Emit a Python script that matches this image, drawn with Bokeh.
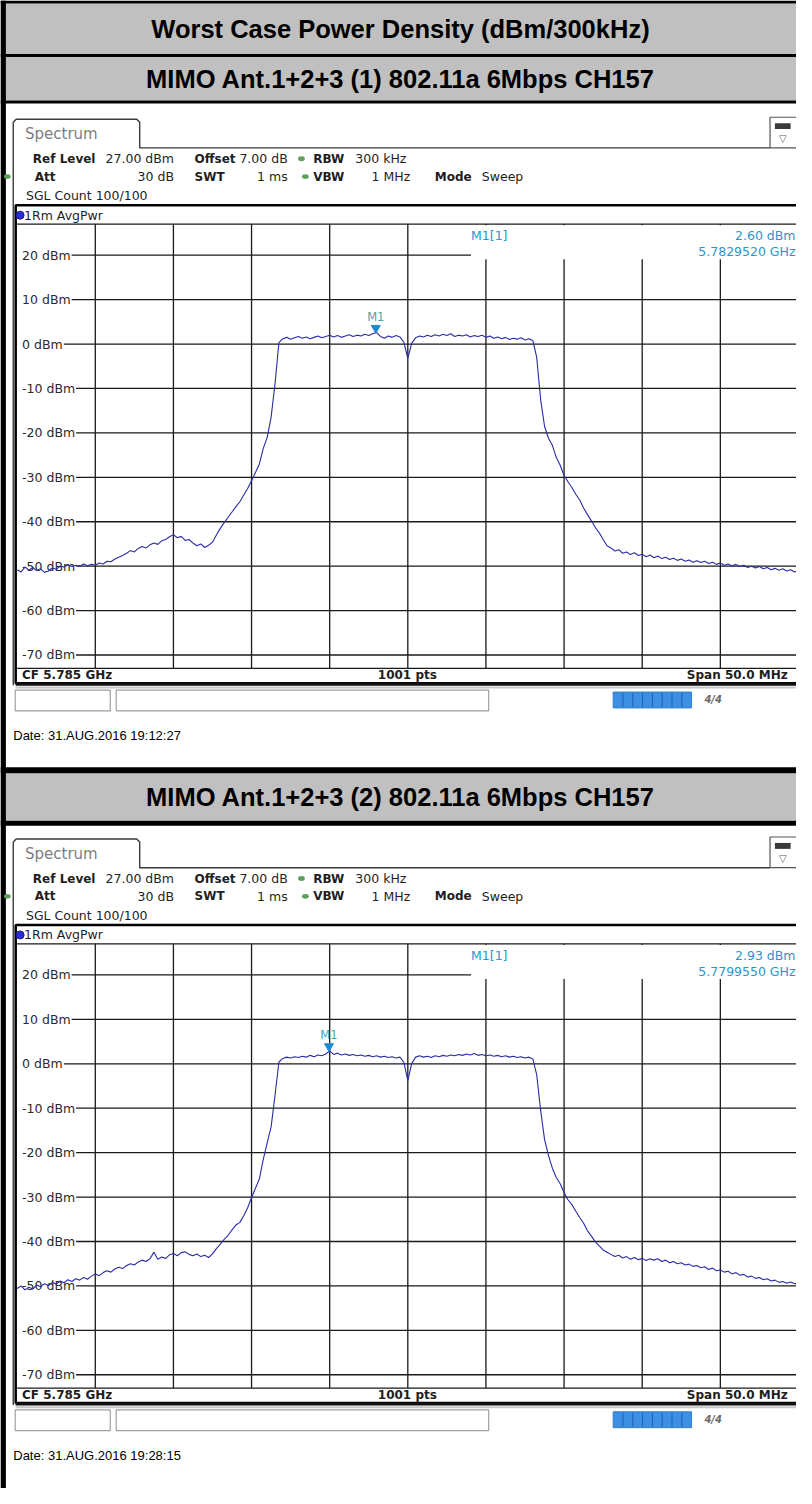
from bokeh.plotting import figure
from bokeh.models import Range1d
from bokeh.core.properties import value
from bokeh.embed import file_html
from bokeh.resources import INLINE

# ---------------- data ----------------
PAGE_TITLE = "Worst Case Power Density (dBm/300kHz)"
PANEL_TITLES = ["MIMO Ant.1+2+3 (1) 802.11a 6Mbps CH157",
                "MIMO Ant.1+2+3 (2) 802.11a 6Mbps CH157"]
DATES = ["Date: 31.AUG.2016  19:12:27", "Date: 31.AUG.2016  19:28:15"]
MARKER_LEVEL_DBM = [2.60, 2.93]
MARKER_FREQ_GHZ = [5.7829520, 5.7799550]
CENTER_GHZ = 5.785
SPAN_MHZ = 50.0
N_POINTS = 1001
REF_LEVEL_DBM = 27.0
OFFSET_DB = 7.0
ATT_DB = 30
RANGE_DB = 100.0
Y_TICKS_DBM = [20, 10, 0, -10, -20, -30, -40, -50, -60, -70]
Y_TICK_LABELS = ["20 dBm", "10 dBm", "0 dBm", "-10 dBm", "-20 dBm",
                 "-30 dBm", "-40 dBm", "-50 dBm", "-60 dBm", "-70 dBm"]
X_GRID_MHZ = [-20, -15, -10, -5, 0, 5, 10, 15, 20]

# trace values read every 0.25 MHz from -25 MHz to +25 MHz
TRACE1_DBM = [
    -50.8, -51.3, -50.2, -50.9, -50.3, -51.0, -50.6, -51.4,
    -51.1, -50.4, -50.7, -50.0, -50.2, -49.7, -50.1, -49.8,
    -50.0, -49.5, -49.9, -49.6, -49.8, -49.3, -49.5, -48.9,
    -49.0, -48.4, -48.0, -47.6, -47.1, -46.5, -46.8, -46.0,
    -45.6, -45.9, -45.2, -44.8, -45.1, -44.3, -44.0, -43.4,
    -42.9, -43.6, -43.3, -44.2, -44.0, -44.8, -45.4, -45.0,
    -45.8, -45.3, -44.6, -43.0, -41.5, -40.2, -39.0, -37.8,
    -36.6, -35.5, -34.0, -32.5, -30.8, -28.9, -27.0, -23.5,
    -21.0, -16.5, -9.0, 0.3, 1.2, 1.5, 1.1, 1.4,
    1.7, 1.3, 1.6, 1.2, 1.5, 1.8, 1.4, 1.7,
    2.0, 1.6, 1.9, 1.5, 1.8, 2.1, 1.7, 2.0,
    1.8, 2.2, 1.9, 2.3, 2.6, 1.7, 1.3, 1.8,
    1.5, 1.9, 1.6, 0.4, -3.2, 0.2, 1.4, 1.8,
    1.6, 2.0, 1.7, 2.1, 1.8, 2.2, 1.9, 2.3,
    1.7, 2.0, 1.8, 2.1, 1.6, 1.9, 1.7, 2.0,
    1.5, 1.8, 1.3, 1.6, 1.2, 1.5, 1.0, 1.3,
    1.1, 1.4, 0.9, 1.2, 0.8, -3.0, -12.5, -18.5,
    -21.2, -22.8, -25.5, -27.3, -29.6, -31.0, -32.3, -33.8,
    -35.1, -36.9, -38.4, -39.8, -41.3, -42.5, -44.0, -45.4,
    -45.9, -46.6, -46.3, -47.1, -46.8, -47.4, -47.0, -47.6,
    -47.3, -47.9, -47.5, -48.1, -47.7, -48.3, -48.0, -48.5,
    -48.2, -48.7, -48.4, -48.9, -48.6, -49.1, -48.8, -49.2,
    -48.9, -49.4, -49.1, -49.6, -49.3, -49.8, -49.5, -49.9,
    -49.6, -50.1, -49.8, -50.3, -50.0, -50.4, -50.1, -50.6,
    -50.3, -50.8, -50.5, -50.9, -50.6, -51.1, -50.8, -51.3,
    -51.0,
]
TRACE2_DBM = [
    -50.6, -50.0, -50.9, -50.3, -50.7, -49.8, -50.2, -49.5,
    -49.9, -49.2, -49.6, -48.9, -49.3, -48.6, -49.0, -48.4,
    -48.7, -48.1, -48.5, -47.8, -47.3, -47.7, -47.0, -46.6,
    -46.9, -46.2, -45.8, -46.1, -45.4, -45.0, -45.3, -44.6,
    -44.2, -44.5, -43.9, -42.4, -44.0, -43.5, -43.8, -43.0,
    -42.7, -43.2, -42.5, -42.3, -42.9, -43.2, -42.8, -43.4,
    -43.1, -43.6, -42.8, -41.6, -40.6, -39.5, -38.6, -37.4,
    -36.3, -35.7, -34.2, -32.4, -30.1, -28.0, -25.9, -21.5,
    -17.8, -14.2, -7.2, 0.4, 1.2, 1.5, 1.3, 1.6,
    1.4, 1.7, 1.5, 1.9, 1.6, 2.0, 1.8, 2.2,
    2.9, 2.1, 2.4, 2.0, 2.2, 1.9, 2.1, 1.8,
    2.0, 1.7, 1.9, 1.6, 1.8, 1.5, 1.7, 1.4,
    1.6, 1.3, 1.5, 0.3, -3.8, 0.1, 1.5, 1.8,
    1.5, 1.7, 1.4, 1.8, 1.6, 1.9, 1.7, 2.0,
    1.8, 2.1, 1.9, 2.2, 2.0, 2.3, 1.9, 2.1,
    1.8, 2.0, 1.7, 1.9, 1.6, 1.8, 1.5, 1.7,
    1.4, 1.6, 1.3, 1.5, 1.1, -2.5, -10.5, -17.0,
    -20.6, -23.5, -25.6, -27.0, -29.0, -30.6, -31.7, -33.2,
    -34.6, -35.9, -37.6, -38.8, -40.1, -41.0, -41.9, -42.4,
    -42.9, -43.4, -43.1, -43.7, -43.4, -44.0, -43.6, -44.1,
    -43.8, -44.3, -43.9, -44.2, -43.9, -44.5, -44.2, -44.8,
    -44.5, -45.0, -44.8, -45.3, -45.1, -45.6, -45.4, -45.9,
    -45.7, -46.3, -46.0, -46.6, -46.4, -46.9, -46.7, -47.3,
    -47.0, -47.6, -47.4, -48.0, -47.8, -48.3, -48.1, -48.6,
    -48.4, -48.9, -48.7, -49.2, -49.0, -49.4, -49.1, -49.5,
    -49.3,
]
TRACES = [TRACE1_DBM, TRACE2_DBM]

# ---------------- layout (reference pixel space) ----------------
W_REF, H_REF = 812.0, 1504.0
GRID_X0, GRID_X1 = 17.0, 814.0
PX_PER_MHZ = (GRID_X1 - GRID_X0) / SPAN_MHZ
CX = (GRID_X0 + GRID_X1) / 2.0
PX_PER_DB = 4.49
PANEL_DY = 727.5
GRID_TOP = [226.0, 226.0 + PANEL_DY]

INSTR = "DejaVu Sans"
ARIAL = "Liberation Sans"
INK = "#1e1e1e"
GRID_C = "#1a1a1a"
MK_C = "#2a96c8"
TRACE_C = "#2b2ba6"
FS = "12.5px"
FSB = "12px"
TITLE_FS = "25.5px"

p = figure(width=796, height=1488, x_range=Range1d(0, W_REF), y_range=Range1d(H_REF, 0),
           output_backend="svg", toolbar_location=None, min_border=0,
           x_axis_location=None, y_axis_location=None,
           background_fill_color="white", border_fill_color="white")
p.xgrid.visible = False
p.ygrid.visible = False
p.outline_line_color = None

p.extra_x_ranges = {"mhz": Range1d((0 - CX) / PX_PER_MHZ, (W_REF - CX) / PX_PER_MHZ)}
p.extra_y_ranges = {
    f"d{k}": Range1d(REF_LEVEL_DBM - (H_REF - t) / PX_PER_DB, REF_LEVEL_DBM + t / PX_PER_DB)
    for k, t in enumerate(GRID_TOP)
}


def T(x, y, s, size=FS, color=INK, font=INSTR, style="normal", align="left",
      xr="default", yr="default"):
    p.text(x=[x], y=[y], text=[s], text_font=value(font), text_font_size=size,
           text_font_style=style, text_color=color, text_align=align,
           text_baseline="middle", x_range_name=xr, y_range_name=yr)


def R(l, r, t, b, fill="white", line=None, lw=1.0):
    p.quad(left=[l], right=[r], top=[t], bottom=[b], fill_color=fill,
           line_color=line, line_width=lw)


def lab_w(s, fs=12.5):
    w = {"-": 0.361, " ": 0.318, "d": 0.635, "B": 0.686, "m": 0.974}
    return sum(w.get(c, 0.636) for c in s) * fs


# ---------------- table frame & titles ----------------
GREY = "#c0c0c0"
for (a, b) in [(3, 54), (57, 101), (781, 829)]:
    R(0, W_REF, a, b, fill=GREY)
for (a, b) in [(0, 3), (54, 57), (101, 104), (775, 781), (829, 834)]:
    R(0, W_REF, a, b, fill="black")
R(0, 5.5, 0, H_REF, fill="black")

T(408, 29, PAGE_TITLE, size=TITLE_FS, color="black", font=ARIAL, style="bold", align="center")
T(408, 79.5, PANEL_TITLES[0], size=TITLE_FS, color="black", font=ARIAL, style="bold", align="center")
T(408, 805.5, PANEL_TITLES[1], size=TITLE_FS, color="black", font=ARIAL, style="bold", align="center")

# ---------------- spectrum screenshots ----------------
for k in range(2):
    oy = k * PANEL_DY
    yr = f"d{k}"
    top = GRID_TOP[k]
    bot_db = REF_LEVEL_DBM - RANGE_DB

    # tab and window outline
    p.line([13, 13, 16, 139, 142, 142, 785],
           [692 + oy, 123 + oy, 120 + oy, 120 + oy, 123 + oy, 149 + oy, 149 + oy],
           line_color="#3a3a3a", line_width=1.4)
    T(25, 135 + oy, "Spectrum", size="15px", color="#7c7c7c")
    R(785, 816, 118 + oy, 149 + oy, fill="white", line="#555555", lw=1.2)
    R(790, 806, 124 + oy, 130 + oy, fill="#3a3a3a")
    T(798, 139.5 + oy, "\u25bd", size="10px", color="#555555", align="center")

    # settings header
    T(33, 160 + oy, "Ref Level", size=FSB, style="bold")
    T(177, 160 + oy, f"{REF_LEVEL_DBM:.2f} dBm", align="right")
    T(198, 160 + oy, "Offset", size=FSB, style="bold")
    T(293, 160 + oy, f"{OFFSET_DB:.2f} dB", align="right")
    T(319, 160 + oy, "RBW", size=FSB, style="bold")
    T(362, 160 + oy, "300 kHz")
    T(35, 178 + oy, "Att", size=FSB, style="bold")
    T(177, 178 + oy, f"{ATT_DB} dB", align="right")
    T(198, 178 + oy, "SWT", size=FSB, style="bold")
    T(293, 178 + oy, "1 ms", align="right")
    T(319, 178 + oy, "VBW", size=FSB, style="bold")
    T(418, 178 + oy, "1 MHz", align="right")
    T(443, 178 + oy, "Mode", size=FSB, style="bold")
    T(491, 178 + oy, "Sweep")
    T(26, 197 + oy, "SGL Count 100/100")
    p.ellipse(x=[7, 307, 311], y=[178 + oy, 160 + oy, 178 + oy], width=7, height=5,
              fill_color="#5f9e5f", line_color=None)

    # graph box
    R(15.5, 830, 207 + oy, 690 + oy, fill=None, line="black", lw=2.5)
    p.line([15.5, 812], [691 + oy, 691 + oy], line_color="#111111", line_width=3)
    p.line([15.5, 812], [694.5 + oy, 694.5 + oy], line_color="#c8c8c8", line_width=2)
    p.scatter([20], [217 + oy], size=8, fill_color="#2b2bd0", line_color="#1a1a90")
    T(24, 217 + oy, "1Rm AvgPwr")

    # grid
    p.segment(x0=[GRID_X0, GRID_X0], y0=[REF_LEVEL_DBM, bot_db], x1=[W_REF, W_REF],
              y1=[REF_LEVEL_DBM, bot_db], y_range_name=yr, line_color=GRID_C, line_width=1.3)
    p.segment(x0=X_GRID_MHZ, y0=[REF_LEVEL_DBM] * len(X_GRID_MHZ), x1=X_GRID_MHZ,
              y1=[bot_db] * len(X_GRID_MHZ), x_range_name="mhz", y_range_name=yr,
              line_color=GRID_C, line_width=1.3)
    starts = [22 + lab_w(s) + 2 for s in Y_TICK_LABELS]
    p.segment(x0=starts, y0=Y_TICKS_DBM, x1=[W_REF] * len(Y_TICKS_DBM), y1=Y_TICKS_DBM,
              y_range_name=yr, line_color=GRID_C, line_width=1.3)
    p.text(x=[22] * len(Y_TICKS_DBM), y=Y_TICKS_DBM, text=Y_TICK_LABELS,
           text_font=value(INSTR), text_font_size=FS, text_color="#2a2a2a",
           text_baseline="middle", y_range_name=yr)

    # marker info box
    R(480, 830, top + 1.2, top + 35.5, fill="white")
    T(480, top + 11.5, "M1[1]", color=MK_C)
    T(811, top + 11.5, f"{MARKER_LEVEL_DBM[k]:.2f} dBm", color=MK_C, align="right")
    T(811, top + 27.5, f"{MARKER_FREQ_GHZ[k]:.7f} GHz", color=MK_C, align="right")

    # trace
    n = len(TRACES[k])
    freq = [-SPAN_MHZ / 2 + SPAN_MHZ * i / (n - 1) for i in range(n)]
    p.line(freq, TRACES[k], x_range_name="mhz", y_range_name=yr,
           line_color=TRACE_C, line_width=1.1)

    # marker
    fm = (MARKER_FREQ_GHZ[k] - CENTER_GHZ) * 1000.0
    lv = MARKER_LEVEL_DBM[k]
    p.scatter([fm], [lv + 1.0], marker="inverted_triangle", size=9,
              fill_color="#1f8ad0", line_color="#1f8ad0",
              x_range_name="mhz", y_range_name=yr)
    T(fm, lv + 3.5, "M1", size="11.5px", color="#4aa5a5", align="center", xr="mhz", yr=yr)

    # footer row
    T(22, 682 + oy, f"CF {CENTER_GHZ:.3f} GHz", size=FSB, style="bold")
    T(415, 682 + oy, f"{N_POINTS} pts", size=FSB, style="bold", align="center")
    T(803, 682 + oy, f"Span {SPAN_MHZ:.1f} MHz", size=FSB, style="bold", align="right")

    # status bar
    R(15, 112, 697 + oy, 718 + oy, fill="white", line="#a0a0a0", lw=1.2)
    R(118, 498, 697 + oy, 718 + oy, fill="white", line="#a0a0a0", lw=1.2)
    R(625, 705, 699 + oy, 715 + oy, fill="#3d8fe3", line="#2f7fd0", lw=1)
    segx = [625 + 10 * i for i in range(1, 8)]
    p.segment(x0=segx, y0=[700 + oy] * 7, x1=segx, y1=[714 + oy] * 7,
              line_color="#1f5fb0", line_width=1)
    T(727, 707 + oy, "4/4", size="10px", color="#6a6a6a", style="bold italic", align="center")

    # date
    T(13, 743 + oy, DATES[k], size="13px", color="black", font=ARIAL)

open("out.html", "w").write(file_html(p, INLINE))
